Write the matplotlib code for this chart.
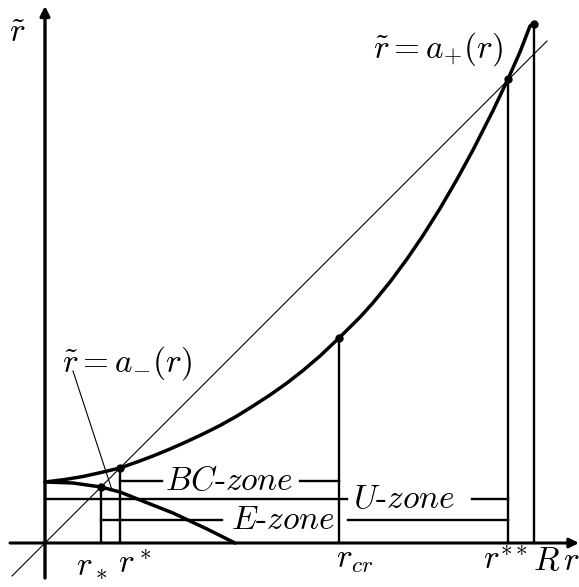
import matplotlib
matplotlib.use("Agg")
import matplotlib.pyplot as plt

plt.rcParams['mathtext.fontset'] = 'cm'
plt.rcParams['font.family'] = 'cmr10'
plt.rcParams['axes.formatter.use_mathtext'] = True

# curve a_+(r), points
ap_r = [0, 20, 38, 56, 75, 92, 108, 125, 142, 158, 175, 192, 208, 225, 242, 258, 275, 294,
        315, 328, 345, 362, 378, 395, 412, 428, 448, 463, 475, 485, 489]
ap_v = [61, 63.5, 66.5, 70.5, 75, 81, 87, 94, 101.5, 109, 117.5, 127, 137, 148, 160, 172.5, 187, 205,
        225.8, 240.2, 261, 284, 307.5, 334.5, 363.7, 393, 432.4, 464, 491, 517, 519]

# curve a_-(r)
am_r = [0, 28, 56, 75, 95, 128, 145, 162, 190]
am_v = [61, 60, 56, 51, 43, 30, 22, 14, 0]

# marked points on the r axis
r_low = 56      # r_*
r_star = 75     # r^*
r_cr = 294
r_ss = 463      # r^**
R = 489
a_low = 56
a_star = 75
a_cr = 205
a_ss = 464
a_R = 519

# zone bars: level, segments, label position
bc_y, bc_segs, bc_x = 62, [(75, 117), (255, 294)], 184
u_y, u_segs, u_x = 44, [(0, 302), (427, 463)], 359
e_y, e_segs, e_x = 23, [(56, 177), (303, 463)], 238

fig = plt.figure(figsize=(5.79, 5.87), dpi=100)
ax = fig.add_axes([0, 0, 1, 1])
ax.set_xlim(-45, 534)
ax.set_ylim(-44, 543)
ax.axis('off')

# axes with arrows
ax.annotate('', xy=(534, 0), xytext=(-35, 0),
            arrowprops=dict(arrowstyle='-|>', lw=2.2, color='k', mutation_scale=14,
                            shrinkA=0, shrinkB=0))
ax.annotate('', xy=(0, 537), xytext=(0, -35),
            arrowprops=dict(arrowstyle='-|>', lw=2.4, color='k', mutation_scale=14,
                            shrinkA=0, shrinkB=0))

# diagonal r~ = r
ax.plot([-33, 502], [-33, 502], color='k', lw=0.8)

# curves
ax.plot(ap_r, ap_v, color='k', lw=2.5, solid_capstyle='round', solid_joinstyle='round')
ax.plot(am_r, am_v, color='k', lw=2.5, solid_capstyle='round', solid_joinstyle='round')

# verticals
for xv, yv in [(r_low, a_low), (r_star, a_star), (r_cr, a_cr), (r_ss, a_ss), (R, a_R)]:
    ax.plot([xv, xv], [0, yv], color='k', lw=1.7)
ax.plot([r_star, r_cr, r_ss, R], [a_star, a_cr, a_ss, a_R], 'o', color='k', ms=5)
ax.plot([r_low], [a_low], 'o', color='k', ms=5)

# zone bars
for yv, segs in [(bc_y, bc_segs), (u_y, u_segs), (e_y, e_segs)]:
    for x0, x1 in segs:
        ax.plot([x0, x1], [yv, yv], color='k', lw=1.7)

fs = 24
ax.text(bc_x, bc_y, r'$BC$-$zone$', fontsize=fs, ha='center', va='center')
ax.text(u_x, u_y, r'$U$-$zone$', fontsize=fs, ha='center', va='center')
ax.text(e_x, e_y, r'$E$-$zone$', fontsize=fs, ha='center', va='center')

# function labels
ax.text(393, 485, r'$\tilde{r}=a_{+}(r)$', fontsize=fs, ha='center', va='baseline')
ax.text(82, 171, r'$\tilde{r}=a_{-}(r)$', fontsize=fs, ha='center', va='baseline')
ax.plot([28, 67], [172, 53], color='k', lw=0.8)

# axis labels
ax.text(-28, 501, r'$\tilde{r}$', fontsize=fs, ha='center', va='baseline')
ax.text(47, -31, r'$r_*$', fontsize=fs, ha='center', va='baseline')
ax.text(90, -31, r'$r^*$', fontsize=fs, ha='center', va='baseline')
ax.text(310, -24, r'$r_{cr}$', fontsize=fs, ha='center', va='baseline')
ax.text(483, -27, r'$r^{**}$', fontsize=fs, ha='right', va='baseline')
ax.text(488, -27, r'$R$', fontsize=fs, ha='left', va='baseline')
ax.text(526, -27, r'$r$', fontsize=fs, ha='center', va='baseline')

fig.savefig('out.png', dpi=100)
